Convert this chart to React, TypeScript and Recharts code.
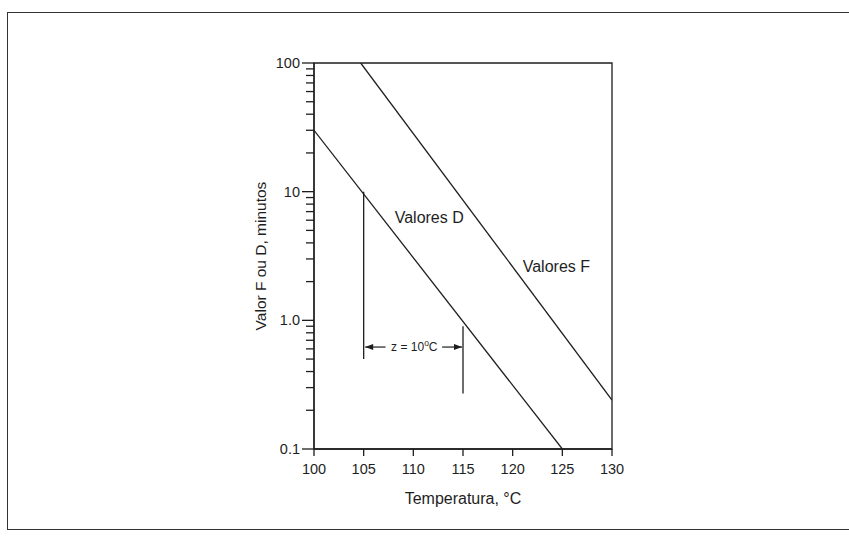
import React from "react";
import {
  ComposedChart,
  Line,
  XAxis,
  YAxis,
  ReferenceLine,
  ReferenceDot,
  ReferenceArea,
} from "recharts";

// ---- data ----
const dTemps = [100, 125];
const dValues = [30, 0.1];
const fTemps = [104.7, 130];
const fValues = [100, 0.24];

const xTicks = [100, 105, 110, 115, 120, 125, 130];
const yMajor = [0.1, 1, 10, 100];
const yMajorLabels = ["0.1", "1.0", "10", "100"];
const yMinor = [
  0.2, 0.3, 0.4, 0.5, 0.6, 0.7, 0.8, 0.9,
  2, 3, 4, 5, 6, 7, 8, 9,
  20, 30, 40, 50, 60, 70, 80, 90,
];

// z-value annotation
const zLeftTemp = 105;
const zLeftRange = [10, 0.5];
const zRightTemp = 115;
const zRightRange = [0.9, 0.27];
const zArrowValue = 0.62;
const zLeftArrow = [107.2, 105.15];
const zRightArrow = [112.9, 114.9];
const zLabel = { temp: 110.1, value: 0.62, text: "z = 10", sup: "o", unit: "C" };

const seriesLabels = [
  { name: "Valores D", temp: 111.6, value: 6.3 },
  { name: "Valores F", temp: 124.4, value: 2.6 },
];

const dData = dTemps.map((t, i) => ({ x: t, y: dValues[i] }));
const fData = fTemps.map((t, i) => ({ x: t, y: fValues[i] }));

const INK = "#1e1e1e";
const FONT = "'Liberation Sans', Arial, Helvetica, sans-serif";

const YTick = (props: any) => {
  const { x, y, payload } = props;
  const v = payload.value;
  const mi = yMajor.findIndex((m) => Math.abs(m - v) < 1e-9);
  const major = mi >= 0;
  return (
    <g>
      <line x1={x - (major ? 12 : 8)} x2={x} y1={y} y2={y} stroke={INK} strokeWidth={1.3} />
      {major && (
        <text x={x - 14} y={y} textAnchor="end" dominantBaseline="central" fontSize={14.5} fill={INK} fontFamily={FONT}>
          {yMajorLabels[mi]}
        </text>
      )}
    </g>
  );
};

const XTick = (props: any) => {
  const { x, y, payload } = props;
  return (
    <g>
      <line x1={x} x2={x} y1={y} y2={y + 7} stroke={INK} strokeWidth={1.3} />
      <text x={x} y={y + 20} textAnchor="middle" dominantBaseline="central" fontSize={14.5} fill={INK} fontFamily={FONT}>
        {payload.value}
      </text>
    </g>
  );
};

export default function App() {
  return (
    <div style={{ position: "absolute", left: 0, top: 0, width: 849, height: 541, background: "#fff" }}>
      <div
        style={{
          position: "absolute",
          left: 7,
          top: 12,
          width: 842,
          height: 518,
          borderLeft: `1.5px solid #333`,
          borderTop: `1.5px solid #333`,
          borderBottom: `1.5px solid #333`,
          boxSizing: "border-box",
        }}
      />
      <div style={{ position: "absolute", left: 0, top: 0 }}>
        <ComposedChart
          width={849}
          height={541}
          margin={{ top: 63, right: 237, bottom: 0, left: 0 }}
        >
          <XAxis
            dataKey="x"
            type="number"
            domain={[100, 130]}
            ticks={xTicks}
            interval={0}
            allowDataOverflow
            height={92}
            tickSize={0}
            tickMargin={0}
            tickLine={false}
            axisLine={{ stroke: INK, strokeWidth: 1.3 }}
            tick={<XTick />}
            label={{
              value: "Temperatura, °C",
              position: "insideBottom",
              offset: 37,
              fontSize: 16,
              fill: INK,
              fontFamily: FONT,
            }}
          />
          <YAxis
            dataKey="y"
            type="number"
            scale="log"
            domain={[0.1, 100]}
            ticks={[...yMajor, ...yMinor]}
            interval={0}
            allowDataOverflow
            width={314}
            tickSize={0}
            tickMargin={0}
            tickLine={false}
            axisLine={{ stroke: INK, strokeWidth: 1.3 }}
            tick={<YTick />}
            label={{
              value: "Valor F ou D, minutos",
              angle: -90,
              position: "insideRight",
              offset: 54,
              fontSize: 15.5,
              fill: INK,
              fontFamily: FONT,
              style: { textAnchor: "middle" },
            }}
          />
          <ReferenceArea x1={100} x2={130} y1={0.1} y2={100} fill="none" stroke={INK} strokeWidth={1.3} fillOpacity={0} />
          <Line data={dData} dataKey="y" stroke={INK} strokeWidth={1.3} dot={false} isAnimationActive={false} />
          <Line data={fData} dataKey="y" stroke={INK} strokeWidth={1.3} dot={false} isAnimationActive={false} />
          <ReferenceLine
            segment={[{ x: zLeftTemp, y: zLeftRange[0] }, { x: zLeftTemp, y: zLeftRange[1] }]}
            stroke={INK}
            strokeWidth={1.3}
          />
          <ReferenceLine
            segment={[{ x: zRightTemp, y: zRightRange[0] }, { x: zRightTemp, y: zRightRange[1] }]}
            stroke={INK}
            strokeWidth={1.3}
          />
          <ReferenceLine
            segment={[{ x: zLeftArrow[0], y: zArrowValue }, { x: zLeftArrow[1], y: zArrowValue }]}
            stroke={INK}
            strokeWidth={1.2}
          />
          <ReferenceLine
            segment={[{ x: zRightArrow[0], y: zArrowValue }, { x: zRightArrow[1], y: zArrowValue }]}
            stroke={INK}
            strokeWidth={1.2}
          />
          <ReferenceDot
            x={zLeftArrow[1]}
            y={zArrowValue}
            r={0}
            shape={(p: any) => (
              <polygon points={`${p.cx},${p.cy} ${p.cx + 8},${p.cy - 3} ${p.cx + 8},${p.cy + 3}`} fill={INK} />
            )}
          />
          <ReferenceDot
            x={zRightArrow[1]}
            y={zArrowValue}
            r={0}
            shape={(p: any) => (
              <polygon points={`${p.cx},${p.cy} ${p.cx - 8},${p.cy - 3} ${p.cx - 8},${p.cy + 3}`} fill={INK} />
            )}
          />
          <ReferenceDot
            x={zLabel.temp}
            y={zLabel.value}
            r={0}
            shape={(p: any) => (
              <text x={p.cx} y={p.cy} textAnchor="middle" dominantBaseline="central" fontSize={12} fill={INK} fontFamily={FONT}>
                {zLabel.text}
                <tspan dy={-4} fontSize={8.5}>{zLabel.sup}</tspan>
                <tspan dy={4}>{zLabel.unit}</tspan>
              </text>
            )}
          />
          {seriesLabels.map((s) => (
            <ReferenceDot
              key={s.name}
              x={s.temp}
              y={s.value}
              r={0}
              shape={(p: any) => (
                <text x={p.cx} y={p.cy} textAnchor="middle" dominantBaseline="central" fontSize={16} fill={INK} fontFamily={FONT}>
                  {s.name}
                </text>
              )}
            />
          ))}
        </ComposedChart>
      </div>
    </div>
  );
}
